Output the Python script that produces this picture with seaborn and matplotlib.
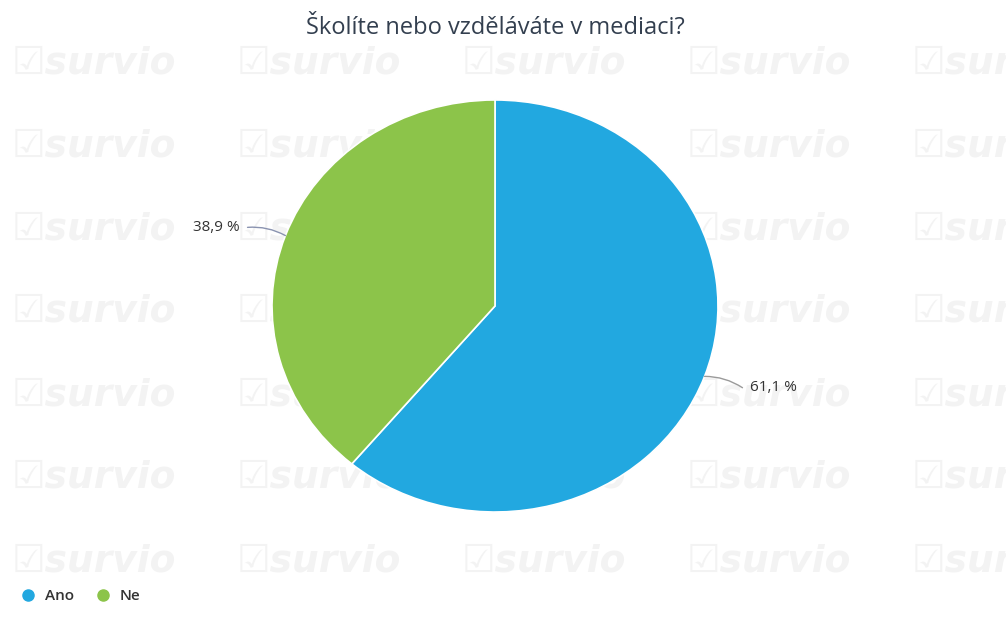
import numpy as np
import matplotlib
matplotlib.use("Agg")
import matplotlib.pyplot as plt
from matplotlib.lines import Line2D
import seaborn as sns

sns.set_theme(style="white")
plt.rcParams['font.family'] = ['Open Sans', 'DejaVu Sans']

# data
labels = ["Ano", "Ne"]
values = [61.1, 38.9]
value_text = ["61,1 %", "38,9 %"]
title = "Školíte nebo vzděláváte v mediaci?"

colors = sns.color_palette(["#22a8e0", "#8cc44a"])

fig = plt.figure(figsize=(10.06, 6.3), dpi=100)
fig.patch.set_facecolor("white")

# survio watermark grid
for yy in np.arange(63, 640, 83):
    for xx in np.arange(12, 1006, 225):
        fig.text(xx / 1006, 1 - yy / 630, "\u2611survio", fontsize=27,
                 fontweight="bold", style="italic", color="#f3f3f3",
                 ha="left", va="center", zorder=-5, family=["DejaVu Sans"])

# pie axes (slightly wider than tall, like the source)
ax = fig.add_axes([0.2704, 0.1873, 0.4433, 0.654])
ax.patch.set_visible(False)
wedges, _ = ax.pie(values, colors=colors, startangle=90, counterclock=False,
                   radius=1, wedgeprops=dict(edgecolor="white", linewidth=1.2))
ax.set_aspect("auto")
ax.set_xlim(-1, 1)
ax.set_ylim(-1, 1)
ax.axis("off")

# data labels with connectors
line_cols = ["#9a9a9a", "#8a93b0"]
for w, txt, lc in zip(wedges, value_text, line_cols):
    mid = np.deg2rad((w.theta1 + w.theta2) / 2)
    ex, ey = np.cos(mid), np.sin(mid)
    side = 1 if ex > 0 else -1
    tx = ex + side * 0.17
    ty = ey + (-0.055 if side > 0 else 0.04)
    ax.annotate("", xy=(ex, ey), xytext=(tx, ty),
                arrowprops=dict(arrowstyle="-", color=lc, lw=1,
                                connectionstyle="arc3,rad=%.2f" % (0.15 * side),
                                shrinkA=0, shrinkB=0), annotation_clip=False)
    ax.text(tx + side * 0.035, ty, txt, ha="left" if side > 0 else "right",
            va="center", fontsize=11, color="#333333", clip_on=False)

fig.text(0.492, 1 - 28 / 630, title, ha="center", va="center",
         fontsize=17, color="#333f4f")

handles = [Line2D([], [], marker="o", linestyle="", markersize=8,
                  markerfacecolor=c, markeredgecolor=c) for c in colors]
fig.legend(handles, labels, loc="center left", bbox_to_anchor=(0.004, 1 - 596 / 630),
           ncol=2, frameon=False, handletextpad=0.45, columnspacing=1.3,
           handlelength=1.3, prop=dict(size=11, weight="semibold"),
           labelcolor="#333333")

fig.savefig("out.png", dpi=100, facecolor="white")
